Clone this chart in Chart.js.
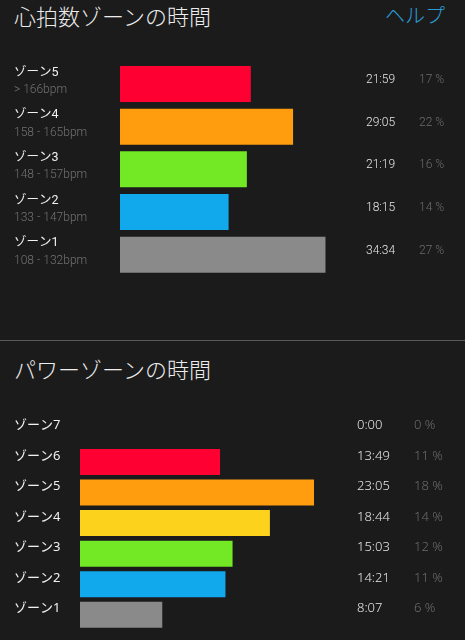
<!DOCTYPE html>
<html>
<head>
<meta charset="utf-8">
<script src="https://cdn.jsdelivr.net/npm/chart.js@4"></script>
<style>
  body { margin: 0; background: #1b1b1b; width: 465px; height: 640px; overflow: hidden; position: relative; font-family: 'Noto Sans CJK JP', sans-serif; }
  .title { position: absolute; left: 14px; font-size: 22px; line-height: 22px; color: #ececec; font-weight: 300; }
  #help { position: absolute; right: 20px; top: 4px; font-size: 20px; line-height: 22px; color: #2b9bd4; font-weight: 300; }
  .sep { position: absolute; left: 0; top: 340px; width: 465px; height: 1px; background: #5a5a5a; }
  canvas { position: absolute; left: 0; }
</style>
</head>
<body>
<div class="title" style="top:4px">心拍数ゾーンの時間</div>
<div id="help">ヘルプ</div>
<canvas id="hr" width="465" height="340" style="top:0"></canvas>
<div class="sep"></div>
<div class="title" style="top:357px">パワーゾーンの時間</div>
<canvas id="pw" width="465" height="298" style="top:342px"></canvas>
<script>
// heart rate zones (top to bottom)
const hrZones = ['ゾーン5', 'ゾーン4', 'ゾーン3', 'ゾーン2', 'ゾーン1'];
const hrRanges = ['> 166bpm', '158 - 165bpm', '148 - 157bpm', '133 - 147bpm', '108 - 132bpm'];
const hrTimes = ['21:59', '29:05', '21:19', '18:15', '34:34'];
const hrPercents = [17, 22, 16, 14, 27];
const hrColors = ['#ff0033', '#ff9d0f', '#72e924', '#12a9ec', '#8a8a8a'];

// power zones (top to bottom)
const pwZones = ['ゾーン7', 'ゾーン6', 'ゾーン5', 'ゾーン4', 'ゾーン3', 'ゾーン2', 'ゾーン1'];
const pwTimes = ['0:00', '13:49', '23:05', '18:44', '15:03', '14:21', '8:07'];
const pwPercents = [0, 11, 18, 14, 12, 11, 6];
const pwColors = ['#b03cc8', '#ff0033', '#ff9d0f', '#fcd21c', '#72e924', '#12a9ec', '#8a8a8a'];

const toSeconds = t => { const [m, s] = t.split(':').map(Number); return m * 60 + s; };
const hrSeconds = hrTimes.map(toSeconds);
const pwSeconds = pwTimes.map(toSeconds);

const hrFont = "Roboto, 'Noto Sans CJK JP', sans-serif";
const pwFont = "'Noto Sans', 'Noto Sans CJK JP', sans-serif";

// draws time / percent columns (and bpm sub labels) next to each bar
function makeSideText(cfg) {
    return {
        id: 'sideText',
        afterDatasetsDraw(chart) {
            const ctx = chart.ctx;
            const y = chart.scales.y;
            ctx.save();
            ctx.textBaseline = 'middle';
            ctx.font = cfg.font;
            cfg.times.forEach((t, i) => {
                const cy = y.getPixelForValue(i);
                ctx.textAlign = 'left';
                ctx.fillStyle = '#e6e6e6';
                ctx.fillText(t, cfg.timeX, cy + cfg.dy);
                ctx.fillStyle = '#6c6c6c';
                ctx.fillText(cfg.percents[i] + ' %', cfg.pctX, cy + cfg.dy);
                if (cfg.sub) {
                    ctx.fillStyle = '#727272';
                    ctx.fillText(cfg.sub[i], 14, cy + cfg.subDy);
                }
            });
            ctx.restore();
        }
    };
}

function zoneChart(el, labels, values, colors, opts) {
    return new Chart(el, {
        type: 'bar',
        data: {
            labels: labels,
            datasets: [{
                data: values,
                backgroundColor: colors,
                borderWidth: 0,
                categoryPercentage: 1,
                barPercentage: opts.barPct
            }]
        },
        options: {
            indexAxis: 'y',
            responsive: false,
            animation: false,
            layout: { padding: opts.padding },
            plugins: { legend: { display: false }, tooltip: { enabled: false } },
            scales: {
                x: { display: false, min: 0, max: Math.max(...values) },
                y: {
                    grid: { display: false },
                    border: { display: false },
                    ticks: {
                        crossAlign: 'far',
                        padding: 0,
                        labelOffset: opts.labelOffset,
                        color: '#f0f0f0',
                        font: { size: opts.fontSize, family: opts.family }
                    },
                    afterFit(scale) { scale.width = opts.axisWidth; }
                }
            }
        },
        plugins: [opts.side]
    });
}

zoneChart(document.getElementById('hr'), hrZones, hrSeconds, hrColors, {
    barPct: 0.844,
    padding: { left: 14, right: 139.3, top: 62.7, bottom: 64 },
    labelOffset: -11.5,
    fontSize: 12.5,
    family: hrFont,
    axisWidth: 106,
    side: makeSideText({ times: hrTimes, percents: hrPercents, sub: hrRanges, font: '300 12px ' + hrFont, timeX: 366, pctX: 419, dy: -4, subDy: 6 })
});

zoneChart(document.getElementById('pw'), pwZones, pwSeconds, pwColors, {
    barPct: 0.852,
    padding: { left: 14, right: 151, top: 74.2, bottom: 10 },
    labelOffset: -6,
    fontSize: 13,
    family: pwFont,
    axisWidth: 66,
    side: makeSideText({ times: pwTimes, percents: pwPercents, font: '300 13px ' + pwFont, timeX: 357, pctX: 414, dy: -6 })
});
</script>
</body>
</html>
